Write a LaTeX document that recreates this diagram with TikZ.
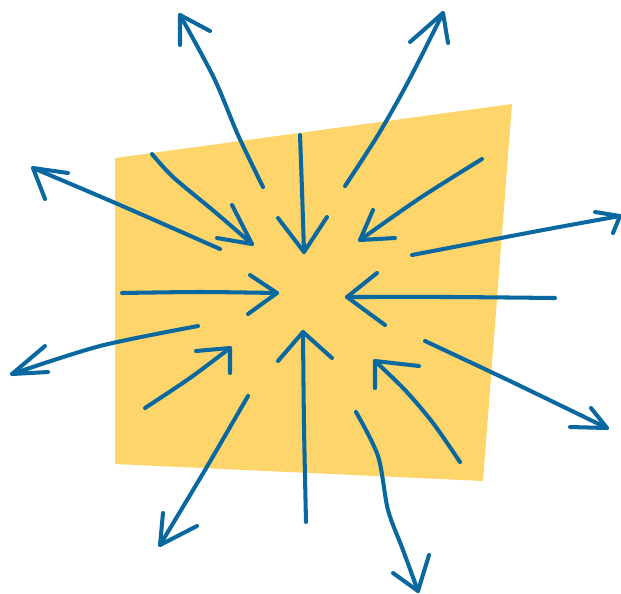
\documentclass[tikz,border=0pt]{standalone}
\definecolor{sheet}{RGB}{253,213,106}
\definecolor{ink}{RGB}{10,104,160}
\begin{document}
\begin{tikzpicture}[x=0.02cm,y=-0.02cm,
  pen/.style={ink,line width=2.3pt,line cap=round,line join=round}]
  \useasboundingbox (0,0) rectangle (621,593);

%% sheet
  \fill[sheet] (115,158) -- (512,104) -- (483,481) -- (115,464) -- cycle;

%% inward arrows
  \draw[pen] plot [smooth] coordinates {(152,154) (173,177) (215,212) (252,244)};
  \draw[pen] (232,205) -- (252,244) -- (217,238);
  \draw[pen] plot [smooth] coordinates {(300,135) (302,190) (304,252)};
  \draw[pen] (278,218) -- (304,252) -- (327,217);
  \draw[pen] plot [smooth] coordinates {(482,159) (420,198) (360,240)};
  \draw[pen] (373,210) -- (360,240) -- (395,238);
  \draw[pen] plot [smooth] coordinates {(555,298) (450,297) (347,297)};
  \draw[pen] (377,273) -- (347,297) -- (385,325);
  \draw[pen] plot [smooth] coordinates {(460,462) (433,423) (405,390) (375,361)};
  \draw[pen] (375,388) -- (375,361) -- (419,366);
  \draw[pen] plot [smooth] coordinates {(306,522) (304,426) (303,332)};
  \draw[pen] (278,361) -- (303,332) -- (332,358);
  \draw[pen] plot [smooth] coordinates {(145,408) (190,378) (230,348)};
  \draw[pen] (196,351) -- (230,348) -- (230,373);
  \draw[pen] plot [smooth] coordinates {(122,293) (200,292) (277,293)};
  \draw[pen] (250,275) -- (277,293) -- (248,314);

%% outward arrows
  \draw[pen] plot [smooth] coordinates {(263,187) (238,135) (214,78) (180,15)};
  \draw[pen] (180,45) -- (180,15) -- (210,31);
  \draw[pen] plot [smooth] coordinates {(345,186) (378,135) (408,82) (443,13)};
  \draw[pen] (410,42) -- (443,13) -- (448,43);
  \draw[pen] plot [smooth] coordinates {(220,249) (120,205) (33,168)};
  \draw[pen] (68,173) -- (33,168) -- (45,199);
  \draw[pen] plot [smooth] coordinates {(412,255) (543,230) (620,216)};
  \draw[pen] (595,212) -- (620,216) -- (613,233);
  \draw[pen] plot [smooth] coordinates {(198,326) (100,346) (12,374)};
  \draw[pen] (45,346) -- (12,374) -- (48,372);
  \draw[pen] plot [smooth] coordinates {(425,341) (510,381) (607,428)};
  \draw[pen] (591,408) -- (607,428) -- (570,427);
  \draw[pen] plot [smooth] coordinates {(248,396) (205,470) (160,545)};
  \draw[pen] (163,513) -- (160,545) -- (197,526);
  \draw[pen] plot [smooth] coordinates {(356,412) (378,456) (388,510) (403,550) (418,591)};
  \draw[pen] (393,573) -- (418,591) -- (429,555);
\end{tikzpicture}
\end{document}
